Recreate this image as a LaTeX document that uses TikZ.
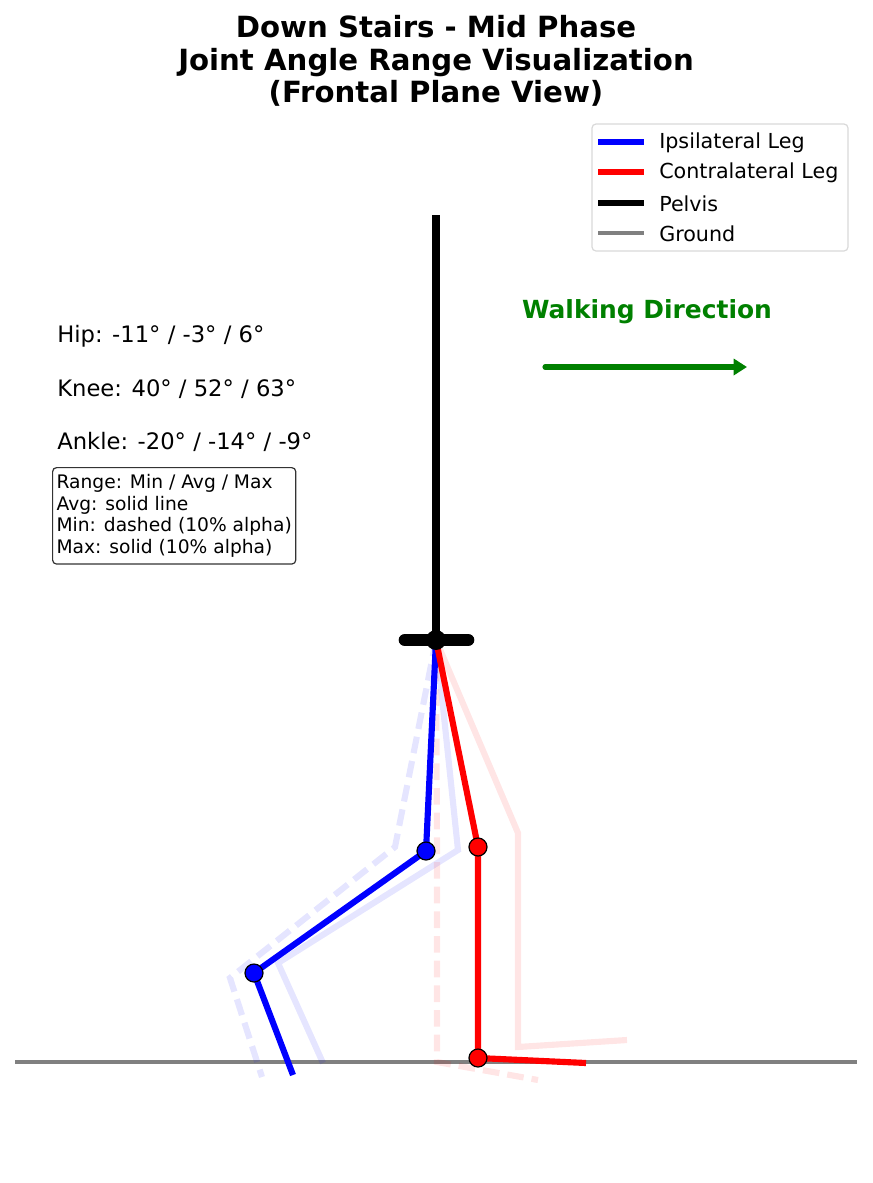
\documentclass[tikz,border=0pt]{standalone}
\usepackage{fontspec}
\setmainfont{DejaVu Sans}
\usepackage{tikz}
\usetikzlibrary{arrows.meta,positioning,calc}

\definecolor{walkgreen}{RGB}{0,128,0}
\definecolor{groundgray}{RGB}{128,128,128}

\tikzset{
  avgleg/.style={line width=4.6pt, line join=round},
  faintleg/.style={line width=4.6pt, opacity=0.1},
  mindash/.style={faintleg, dash pattern=on 12.5pt off 6pt},
  jointdot/.style={circle, draw=black, line width=0.9pt, minimum size=13.5pt, inner sep=0pt},
  angletext/.style={anchor=west, inner sep=0pt, font=\fontsize{17}{20}\selectfont},
  legendtext/.style={anchor=west, inner sep=0pt, font=\fontsize{15.5}{18}\selectfont},
}

\begin{document}
\begin{tikzpicture}[x=0.75pt, y=-0.75pt]
  \useasboundingbox (0,0) rectangle (873,1183);

  % title
  \node[align=center, font=\bfseries\fontsize{21.9}{24.4}\selectfont] (title)
    at (436,61) {Down Stairs - Mid Phase\\Joint Angle Range Visualization\\(Frontal Plane View)};

  % joint positions (px)
  \coordinate (hipJ) at (436,640);
  \coordinate (ipKnee) at (426,851);
  \coordinate (ipAnkle) at (254,973);
  \coordinate (ipToe) at (293,1075);
  \coordinate (coKnee) at (478,847);
  \coordinate (coAnkle) at (478,1058);
  \coordinate (coToe) at (586,1063);
  % min / max poses
  \coordinate (ipKneeMin) at (395,847);
  \coordinate (ipAnkleMin) at (230,978);
  \coordinate (ipToeMin) at (262,1077);
  \coordinate (ipKneeMax) at (458,850);
  \coordinate (ipAnkleMax) at (278,963);
  \coordinate (ipToeMax) at (323,1063);
  \coordinate (coKneeMin) at (437,850);
  \coordinate (coAnkleMin) at (437,1062);
  \coordinate (coToeMin) at (538,1080);
  \coordinate (coKneeMax) at (518,833);
  \coordinate (coAnkleMax) at (518,1047);
  \coordinate (coToeMax) at (627,1040);

  % ground
  \coordinate (gndL) at (15,1062);
  \coordinate (gndR) at (857,1062);
  \draw[groundgray, line width=2.4pt] (gndL) -- (gndR);

  % faint ranges
  \draw[mindash, blue] (hipJ) -- (ipKneeMin) -- (ipAnkleMin) -- (ipToeMin);
  \draw[faintleg, blue] (hipJ) -- (ipKneeMax) -- (ipAnkleMax) -- (ipToeMax);
  \draw[mindash, red] (hipJ) -- (coKneeMin) -- (coAnkleMin) -- (coToeMin);
  \draw[faintleg, red] (hipJ) -- (coKneeMax) -- (coAnkleMax) -- (coToeMax);

  % average pose
  \draw[avgleg, blue] (hipJ) -- (ipKnee) -- (ipAnkle) -- (ipToe);
  \draw[avgleg, red] (hipJ) -- (coKnee) -- (coAnkle) -- (coToe);

  % pelvis
  \coordinate (trunkTop) at (436,215);
  \coordinate (pelvL) at (405,640);
  \coordinate (pelvR) at (468,640);
  \draw[line width=6.5pt] (hipJ) -- (trunkTop);
  \draw[line width=9.5pt, line cap=round] (pelvL) -- (pelvR);
  \node[circle, fill=black, minimum size=15pt, inner sep=0pt] (pelvDot) at (hipJ) {};

  \node[jointdot, fill=blue] (ipKneeDot) at (ipKnee) {};
  \node[jointdot, fill=blue] (ipAnkleDot) at (ipAnkle) {};
  \node[jointdot, fill=red] (coKneeDot) at (coKnee) {};
  \node[jointdot, fill=red] (coAnkleDot) at (coAnkle) {};

  % angle values
  \node[angletext] (hipVal) at (57,336) {Hip: -11° / -3° / 6°};
  \node[angletext] (kneeVal) at (57,389) {Knee: 40° / 52° / 63°};
  \node[angletext] (ankleVal) at (57,442) {Ankle: -20° / -14° / -9°};

  \node[draw=black!80, line width=0.9pt, rounded corners=3pt, fill=white, anchor=north west,
        align=left, inner xsep=3pt, inner ysep=4.8pt, font=\fontsize{14}{16.4}\selectfont]
    (rangeNote) at (52,467)
    {Range: Min / Avg / Max\\Avg: solid line\\Min: dashed (10\% alpha)\\Max: solid (10\% alpha)};

  % walking direction
  \node[font=\bfseries\fontsize{18.7}{22}\selectfont, text=walkgreen] (walkLabel) at (647,312) {Walking Direction};
  \coordinate (walkStart) at (545,367);
  \coordinate (walkEnd) at (747,367);
  \draw[walkgreen, line width=3.8pt, line cap=round, -{Triangle[length=10pt, width=12pt]}]
    (walkStart) -- (walkEnd);

  % legend
  \draw[black!15, line width=0.9pt, fill=white, rounded corners=3pt] (592,124) rectangle (848,251);
  \foreach \y/\col/\w/\txt [count=\i] in {142/blue/4.6pt/Ipsilateral Leg, 172/red/4.6pt/Contralateral Leg,
      203/black/5.2pt/Pelvis, 233/groundgray/2.8pt/Ground} {
    \coordinate (legA\i) at (598,\y);
    \coordinate (legB\i) at (644,\y);
    \draw[\col, line width=\w] (legA\i) -- (legB\i);
    \node[legendtext] (legT\i) at (659,\y+1) {\txt};
  }
\end{tikzpicture}
\end{document}
